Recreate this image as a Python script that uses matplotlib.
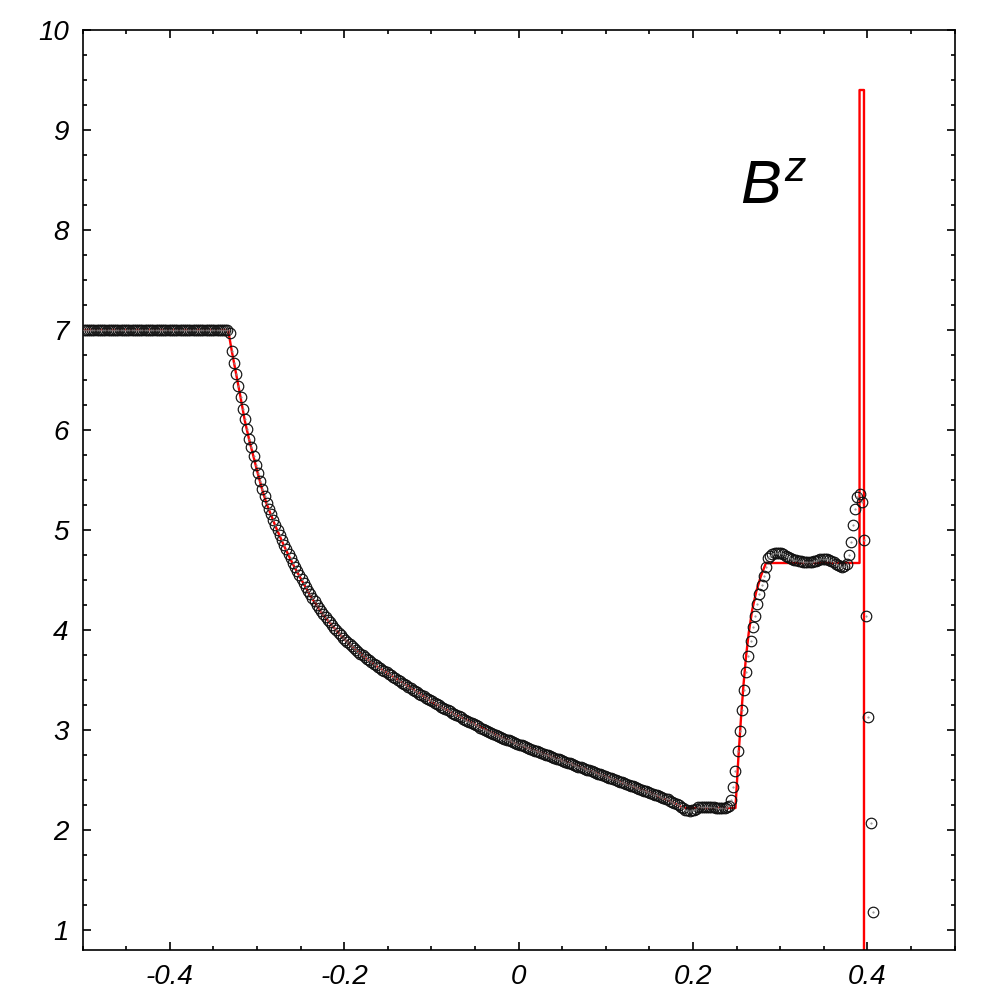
import matplotlib
matplotlib.use("Agg")
import matplotlib.pyplot as plt
import numpy as np
from matplotlib.ticker import MultipleLocator, FuncFormatter

plt.rcParams['font.family'] = ['Liberation Sans', 'DejaVu Sans']
plt.rcParams['font.style'] = 'italic'
plt.rcParams['axes.unicode_minus'] = False
plt.rcParams['mathtext.fontset'] = 'custom'
plt.rcParams['mathtext.it'] = 'Liberation Sans:italic'
plt.rcParams['mathtext.rm'] = 'Liberation Sans:italic'

# numerical solution, one value per cell (400 cells on [-0.5, 0.5])
bz_left = [7.0] * 67
bz_rarefaction = [
    6.97, 6.79, 6.67, 6.56, 6.44, 6.33, 6.21, 6.11, 6.01, 5.91,
    5.83, 5.74, 5.65, 5.57, 5.49, 5.41, 5.34, 5.27, 5.21, 5.155,
    5.10, 5.05, 5.00, 4.950, 4.901, 4.853, 4.806, 4.760, 4.715, 4.671,
    4.628, 4.586, 4.545, 4.505, 4.466, 4.428, 4.391, 4.355, 4.320, 4.286,
    4.253, 4.221, 4.190, 4.160, 4.131, 4.103, 4.076, 4.049, 4.023, 3.997,
    3.972, 3.947, 3.923, 3.901, 3.880, 3.859, 3.839, 3.819, 3.800, 3.781,
    3.763, 3.745, 3.728, 3.711, 3.695, 3.679, 3.663, 3.648, 3.633, 3.618,
    3.604, 3.590, 3.576,
    3.561, 3.547, 3.532, 3.517, 3.503, 3.489, 3.474, 3.460, 3.446, 3.432,
    3.418, 3.405, 3.391, 3.377, 3.364, 3.351, 3.337, 3.324, 3.311, 3.298,
    3.285, 3.272, 3.259, 3.247, 3.234, 3.222, 3.209, 3.197, 3.185, 3.173,
    3.161, 3.149, 3.137, 3.126, 3.114, 3.102, 3.091, 3.080, 3.068, 3.057,
    3.046, 3.035, 3.025, 3.014, 3.003, 2.993, 2.982, 2.972, 2.962, 2.951,
    2.941, 2.931,
    2.922, 2.914, 2.905, 2.897, 2.888, 2.880, 2.871, 2.863, 2.854, 2.846,
    2.837, 2.829, 2.820, 2.812, 2.803,
    2.795, 2.787, 2.779, 2.771, 2.763, 2.755, 2.747, 2.739, 2.731, 2.723,
    2.715, 2.707, 2.699, 2.691, 2.683, 2.675, 2.667, 2.659, 2.651, 2.643,
    2.635, 2.627, 2.619, 2.611, 2.603, 2.595, 2.587, 2.579, 2.571, 2.563,
    2.555, 2.547, 2.539, 2.531, 2.523, 2.515, 2.507, 2.499, 2.491, 2.483,
    2.475, 2.467, 2.459, 2.451, 2.443, 2.435, 2.427, 2.419, 2.411, 2.403,
    2.395, 2.387, 2.379, 2.371, 2.363, 2.355, 2.347, 2.339, 2.331, 2.323,
    2.315,
]
bz_middle = [
    2.305, 2.295, 2.284, 2.272, 2.259, 2.245, 2.232, 2.218, 2.205, 2.198,
    2.195, 2.198, 2.205, 2.215, 2.225, 2.230, 2.232, 2.232, 2.230, 2.228,
    2.226, 2.225, 2.224, 2.222, 2.220, 2.220, 2.222, 2.226, 2.240,
]
bz_rise = [
    2.30, 2.43, 2.59, 2.79, 2.99, 3.20, 3.40, 3.58, 3.74, 3.89,
    4.03, 4.14, 4.26, 4.36, 4.45, 4.54, 4.63, 4.72,
]
bz_plateau = [
    4.74, 4.755, 4.765, 4.77, 4.77, 4.765, 4.755, 4.74, 4.73, 4.72,
    4.71, 4.70, 4.695, 4.69, 4.685, 4.68, 4.68, 4.68, 4.68, 4.68,
    4.685, 4.69, 4.70, 4.705, 4.71, 4.71, 4.705, 4.70, 4.69, 4.675,
    4.66, 4.645, 4.635, 4.63, 4.635, 4.66, 4.75,
]
bz_shell = [4.88, 5.05, 5.21, 5.33, 5.36, 5.28, 4.90, 4.14, 3.13, 2.07, 1.18]
bz_right = [0.7] * 37

bz = np.array(bz_left + bz_rarefaction + bz_middle + bz_rise + bz_plateau + bz_shell + bz_right)
n_cells = len(bz)
dx = 1.0 / n_cells
x = np.linspace(-0.5 + dx / 2, 0.5 - dx / 2, n_cells)

# exact solution
exact_x = [-0.5, -0.3330, -0.3288, -0.3238, -0.3188, -0.3138, -0.3088, -0.3038, -0.2988,
           -0.2938, -0.2888, -0.2788, -0.2688, -0.2588, -0.2488, -0.2363, -0.2238, -0.2113,
           -0.1988, -0.1863, -0.1738, -0.1613, -0.1488, -0.1238, -0.0988, -0.0738, -0.0488,
           -0.0238, 0.0013, 0.0263, 0.0513, 0.0763, 0.1013, 0.1263, 0.1513, 0.1763, 0.1890,
           0.2488, 0.2520, 0.2550, 0.2580, 0.2610, 0.2640, 0.2680, 0.2728, 0.2780, 0.2838,
           0.3911, 0.3911, 0.3962, 0.3962, 0.5]
exact_y = [7.0, 7.0, 6.79, 6.56, 6.33, 6.09, 5.90, 5.73, 5.56,
           5.40, 5.26, 5.04, 4.84, 4.66, 4.50, 4.31, 4.15, 4.02,
           3.90, 3.80, 3.71, 3.63, 3.56, 3.42, 3.28, 3.16, 3.05,
           2.94, 2.85, 2.77, 2.69, 2.61, 2.53, 2.45, 2.37, 2.28, 2.22,
           2.22, 2.70, 3.10, 3.45, 3.74, 3.97, 4.20, 4.39, 4.54, 4.67,
           4.67, 9.40, 9.40, 0.70, 0.70]

fig = plt.figure(figsize=(10, 10), dpi=100)
ax = fig.add_axes([0.0825, 0.05, 0.872, 0.92])

ax.plot(exact_x, exact_y, color='#ff0000', linewidth=1.7, zorder=2)
ax.plot(x, bz, linestyle='none', marker='o', markersize=7.6, markerfacecolor='none',
        markeredgecolor='#111111', markeredgewidth=0.85, zorder=3)
ax.plot(x, bz, linestyle='none', marker='.', markersize=1.0, color='#888888', zorder=3)

ax.set_xlim(-0.5, 0.5)
ax.set_ylim(0.8, 10)

ax.xaxis.set_major_locator(MultipleLocator(0.2))
ax.xaxis.set_minor_locator(MultipleLocator(0.05))
ax.yaxis.set_major_locator(MultipleLocator(1))
ax.yaxis.set_minor_locator(MultipleLocator(0.25))
ax.xaxis.set_major_formatter(FuncFormatter(lambda v, p: '%g' % round(v, 3)))
ax.yaxis.set_major_formatter(FuncFormatter(lambda v, p: '%g' % v))

ax.tick_params(which='both', direction='in', top=True, right=True, width=1.2)
ax.tick_params(which='major', length=6, labelsize=20)
ax.tick_params(axis='x', which='major', pad=10)
ax.tick_params(axis='y', which='major', pad=10)
ax.tick_params(which='minor', length=3)
for s in ax.spines.values():
    s.set_linewidth(1.2)

for lab in ax.get_xticklabels() + ax.get_yticklabels():
    lab.set_fontstyle('italic')

ax.text(0.2545, 8.27, '$B^z$', fontsize=44, ha='left', va='baseline')

fig.savefig('out.png', dpi=100)
